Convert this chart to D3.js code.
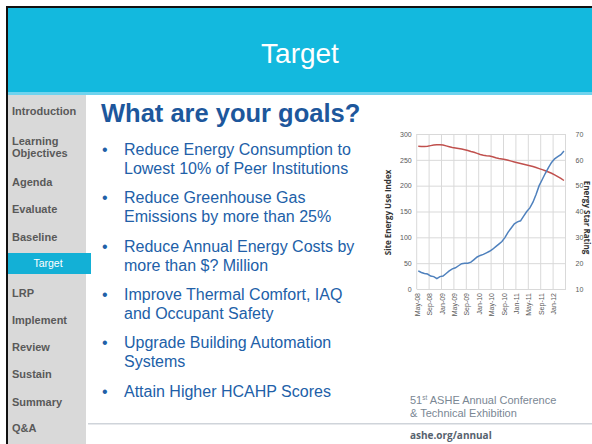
<!DOCTYPE html>
<html>
<head>
<meta charset="utf-8">
<script src="https://cdn.jsdelivr.net/npm/d3@7"></script>
<style>
  body { margin: 0; background: #fff; }
  svg { display: block; font-family: "Liberation Sans", Arial, sans-serif; }
</style>
</head>
<body>
<div id="slide"></div>
<script>
// slide text
const slideTitle = "Target";
const navItems = [
    ["Introduction"], ["Learning", "Objectives"], ["Agenda"], ["Evaluate"], ["Baseline"],
    ["Target"], ["LRP"], ["Implement"], ["Review"], ["Sustain"], ["Summary"], ["Q&A"]
];
const navActive = "Target";
const heading = "What are your goals?";
const bullets = [
    ["Reduce Energy Consumption to", "Lowest 10% of Peer Institutions"],
    ["Reduce Greenhouse Gas", "Emissions by more than 25%"],
    ["Reduce Annual Energy Costs by", "more than $? Million"],
    ["Improve Thermal Comfort, IAQ", "and Occupant Safety"],
    ["Upgrade Building Automation", "Systems"],
    ["Attain Higher HCAHP Scores"]
];

// chart data: monthly, Apr-08 .. Mar-12
const firstMonth = new Date(2008, 3, 1);
const siteEUI = [
    35, 32, 30, 29, 25, 24, 20, 24, 25, 30, 35, 39,
    41, 45, 49, 50, 50, 52, 57, 62, 65, 67, 70, 73,
    77, 82, 87, 92, 100, 110, 118, 126, 130, 132, 141, 150,
    157, 168, 183, 200, 212, 224, 235, 245, 252, 256, 260, 267
];
const starRating = [
    65.3, 65.2, 65.2, 65.3, 65.5, 65.7, 65.8, 65.8, 65.7, 65.4, 65.1, 64.8,
    64.6, 64.4, 64.2, 63.9, 63.6, 63.2, 62.9, 62.5, 62.1, 61.8, 61.6, 61.5,
    61.2, 60.8, 60.5, 60.3, 60.1, 59.8, 59.5, 59.2, 58.9, 58.6, 58.3, 58.0,
    57.7, 57.4, 57.0, 56.6, 56.2, 55.8, 55.3, 54.8, 54.2, 53.5, 52.8, 52.0
];
const xTickLabels = ["May-08", "Sep-08", "Jan-09", "May-09", "Sep-09", "Jan-10",
                     "May-10", "Sep-10", "Jan-11", "May-11", "Sep-11", "Jan-12"];
const leftTicks = [0, 50, 100, 150, 200, 250, 300];
const rightTicks = [10, 20, 30, 40, 50, 60, 70];
const leftTitle = "Site Energy Use Index";
const rightTitle = "Energy Star Rating";
const footerUrl = "ashe.org/annual";

const W = 592, H = 444;
const svg = d3.select("#slide").append("svg").attr("width", W).attr("height", H);

// frame + header
svg.append("rect").attr("x", 6).attr("y", 6).attr("width", W - 6).attr("height", 2).attr("fill", "#111");
svg.append("rect").attr("x", 6).attr("y", 6).attr("width", 2).attr("height", H - 6).attr("fill", "#111");
svg.append("rect").attr("x", 8).attr("y", 8).attr("width", W - 8).attr("height", 85).attr("fill", "#13b9de");
svg.append("rect").attr("x", 8).attr("y", 92).attr("width", W - 8).attr("height", 3).attr("fill", "#6fd3ee");
svg.append("text")
    .attr("x", 300).attr("y", 63)
    .attr("text-anchor", "middle")
    .attr("fill", "#fff")
    .style("font-size", "28px")
    .text(slideTitle);

// left navigation
svg.append("rect").attr("x", 8).attr("y", 95).attr("width", 78).attr("height", H - 95).attr("fill", "#d9d9d9");
const navCenters = [111, 147, 182, 209, 237, 263, 293, 320, 347, 374, 402, 428];
const nav = svg.append("g");
navItems.forEach((lines, i) => {
    const cy = navCenters[i];
    const active = lines[0] === navActive;
    if (active) {
        nav.append("rect").attr("x", 8).attr("y", cy - 10).attr("width", 83).attr("height", 21).attr("fill", "#13b0d6");
    }
    lines.forEach((t, j) => {
        nav.append("text")
            .attr("x", active ? 48 : 12)
            .attr("y", cy + 4 + (j - (lines.length - 1) / 2) * 12)
            .attr("text-anchor", active ? "middle" : "start")
            .attr("fill", active ? "#fff" : "#595959")
            .style("font-size", active ? "10.5px" : "11px")
            .style("font-weight", active ? "normal" : "bold")
            .text(t);
    });
});

// heading + bullets
svg.append("text")
    .attr("x", 101).attr("y", 122)
    .attr("fill", "#1d579c")
    .style("font-size", "25.5px")
    .style("font-weight", "bold")
    .text(heading);

const bulletY = [155, 203, 252, 300, 348, 397];
const bl = svg.append("g").attr("fill", "#2160a8");
bullets.forEach((lines, i) => {
    bl.append("text").attr("x", 102).attr("y", bulletY[i]).style("font-size", "16px").text("•");
    lines.forEach((t, j) => {
        bl.append("text")
            .attr("x", 124).attr("y", bulletY[i] + j * 19)
            .style("font-size", "16px")
            .text(t);
    });
});

// footer
svg.append("rect").attr("x", 88).attr("y", 423).attr("width", W - 88).attr("height", 1.5).attr("fill", "#cfd4da");
const foot = svg.append("g").attr("fill", "#7a8794");
const f1 = foot.append("text").attr("x", 410).attr("y", 404).style("font-size", "11px");
f1.append("tspan").text("51");
f1.append("tspan").attr("dy", -4).style("font-size", "6.5px").text("st");
f1.append("tspan").attr("dy", 4).text(" ASHE Annual Conference");
foot.append("text").attr("x", 410).attr("y", 417).style("font-size", "11px").text("& Technical Exhibition");
foot.append("text").attr("x", 410).attr("y", 439)
    .attr("fill", "#56626e")
    .style("font-family", "'Open Sans', sans-serif")
    .style("font-size", "10px").style("font-weight", "bold")
    .text(footerUrl);

// chart
const months = siteEUI.map((d, i) => d3.timeMonth.offset(firstMonth, i));
const fmt = d3.timeFormat("%b-%y");
const monthKeys = months.map(fmt);

const plot = { left: 416.7, right: 565.5, top: 134, bottom: 289 };
const x = d3.scaleBand().domain(monthKeys).range([plot.left, plot.right]).padding(0);
const yL = d3.scaleLinear().domain([0, 300]).range([plot.bottom, plot.top]);
const yR = d3.scaleLinear().domain([10, 70]).range([plot.bottom, plot.top]);
const cx = k => x(k) + x.bandwidth() / 2;

const chart = svg.append("g").style("font-family", "'Open Sans', 'Liberation Sans', sans-serif");

// horizontal gridlines + left ticks
const gL = chart.append("g")
    .attr("transform", `translate(${plot.left},0)`)
    .call(d3.axisLeft(yL).tickValues(leftTicks).tickSize(-(plot.right - plot.left)).tickPadding(5));
gL.select(".domain").remove();
gL.selectAll(".tick line").attr("stroke", "#d9d9d9");
gL.selectAll(".tick text").attr("fill", "#595959").style("font-size", "7px");

// right ticks
const gR = chart.append("g")
    .attr("transform", `translate(${plot.right},0)`)
    .call(d3.axisRight(yR).tickValues(rightTicks).tickSize(0).tickPadding(10));
gR.select(".domain").remove();
gR.selectAll(".tick text").attr("fill", "#595959").style("font-size", "7px");

// vertical gridlines every 4 months (category boundaries)
const vLines = monthKeys.filter((d, i) => i % 4 === 0).map(k => x(k)).concat([plot.right]);
chart.append("g").selectAll("line").data(vLines).join("line")
    .attr("x1", d => d).attr("x2", d => d)
    .attr("y1", plot.top).attr("y2", plot.bottom)
    .attr("stroke", "#d9d9d9");

// x labels
const gX = chart.append("g")
    .attr("transform", `translate(0,${plot.bottom})`)
    .call(d3.axisBottom(x).tickValues(xTickLabels).tickSize(0).tickPadding(4));
gX.select(".domain").attr("stroke", "#d9d9d9");
gX.selectAll(".tick text")
    .attr("fill", "#595959")
    .style("font-size", "7px")
    .attr("text-anchor", "end")
    .attr("dy", "0.35em")
    .attr("transform", "rotate(-90) translate(-4,-4)")
    .attr("x", 0).attr("y", 0);

// series
chart.append("path")
    .datum(starRating)
    .attr("fill", "none").attr("stroke", "#c0504d").attr("stroke-width", 1.5)
    .attr("d", d3.line().x((d, i) => cx(monthKeys[i])).y(d => yR(d)));
chart.append("path")
    .datum(siteEUI)
    .attr("fill", "none").attr("stroke", "#4f81bd").attr("stroke-width", 1.5)
    .attr("d", d3.line().x((d, i) => cx(monthKeys[i])).y(d => yL(d)));

// axis titles
chart.append("text")
    .attr("transform", `translate(391,${(plot.top + plot.bottom) / 2 + 1}) rotate(-90)`)
    .attr("text-anchor", "middle")
    .attr("fill", "#333")
    .style("font-size", "8px").style("font-weight", "bold")
    .text(leftTitle);
chart.append("text")
    .attr("transform", `translate(584,${(plot.top + plot.bottom) / 2 + 6}) rotate(90)`)
    .attr("text-anchor", "middle")
    .attr("fill", "#333")
    .style("font-size", "8px").style("font-weight", "bold")
    .text(rightTitle);
</script>
</body>
</html>
